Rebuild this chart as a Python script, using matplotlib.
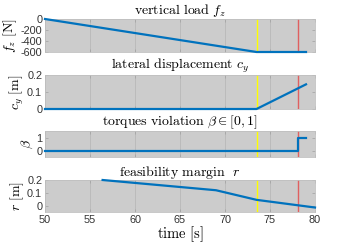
import matplotlib
matplotlib.use("Agg")
import matplotlib.pyplot as plt
import numpy as np

plt.rcParams['mathtext.fontset'] = 'cm'
plt.rcParams['font.family'] = ['Liberation Sans', 'DejaVu Sans']

# data
t_fz = [50, 73.5, 79.0]
fz = [0, -600, -600]
t_cy = [50, 73.5, 79.0]
cy = [0, 0, 0.145]
t_beta = [50, 78.1, 78.1, 79.0]
beta = [0, 0, 1, 1]
t_r = [56.4, 69.0, 73.5, 80.0]
r = [0.2, 0.12, 0.045, -0.015]
t_yellow = 73.5
t_red = 78.1

titles = [r'$\mathrm{vertical\ load}\ f_z$',
          r'$\mathrm{lateral\ displacement}\ c_y$',
          r'$\mathrm{torques\ violation}\ \beta \in [0,1]$',
          r'$\mathrm{feasibility\ margin}\ \ r$']
ylabels = [r'$f_z\ [\mathrm{N}]$', r'$c_y\ [\mathrm{m}]$', r'$\beta$', r'$r\ [\mathrm{m}]$']
ylims = [(-600, 0), (0, 0.2), (-0.5, 1.5), (-0.05, 0.2)]
yticks = [[-600, -400, -200, 0], [0, 0.1, 0.2], [0, 1], [0, 0.1, 0.2]]
yticklabels = [['-600', '-400', '-200', '0'], ['0', '0.1', '0.2'], ['0', '1'], ['0', '0.1', '0.2']]
xticks = [50, 55, 60, 65, 70, 75, 80]

W, H = 348, 245
fig = plt.figure(figsize=(W / 100, H / 100), dpi=100)
left, right = 45 / W, 315 / W
boxes = [(19, 52), (75, 109), (131, 157), (180, 212)]
series = [(t_fz, fz), (t_cy, cy), (t_beta, beta), (t_r, r)]
bg = '#cccccc'
blue = '#0072bd'

for i, ((top, bot), (tx, ty)) in enumerate(zip(boxes, series)):
    ax = fig.add_axes([left, 1 - bot / H, right - left, (bot - top) / H])
    ax.set_facecolor(bg)
    ax.set_xlim(50, 80)
    ax.set_ylim(*ylims[i])
    ax.set_xticks(xticks)
    ax.set_yticks(yticks[i])
    ax.set_yticklabels(yticklabels[i])
    ax.grid(True, axis='x', color='#b8b8b8', linewidth=0.6)
    ax.set_axisbelow(True)
    ax.axvline(t_yellow, color='#ffff00', linewidth=1.0)
    ax.axvline(t_red, color='#e06060', linewidth=1.0)
    ax.plot(tx, ty, color=blue, linewidth=1.6, clip_on=False, zorder=3)
    for s in ax.spines.values():
        s.set_color('#bfbfbf')
        s.set_linewidth(0.6)
    ax.tick_params(axis='both', labelsize=7.8, colors='#333333', length=2,
                   width=0.5, direction='in', pad=2, right=True, top=True)
    ax.tick_params(axis='both', color='#a0a0a0')
    ax.set_title(titles[i], fontsize=10, pad=3)
    ax.set_ylabel(ylabels[i], fontsize=10, labelpad=1)
    if i < 3:
        ax.set_xticklabels([])
    else:
        ax.set_xlabel(r'$\mathrm{time\ [s]}$', fontsize=10.5, labelpad=0)

fig.savefig('out.png', dpi=100)
